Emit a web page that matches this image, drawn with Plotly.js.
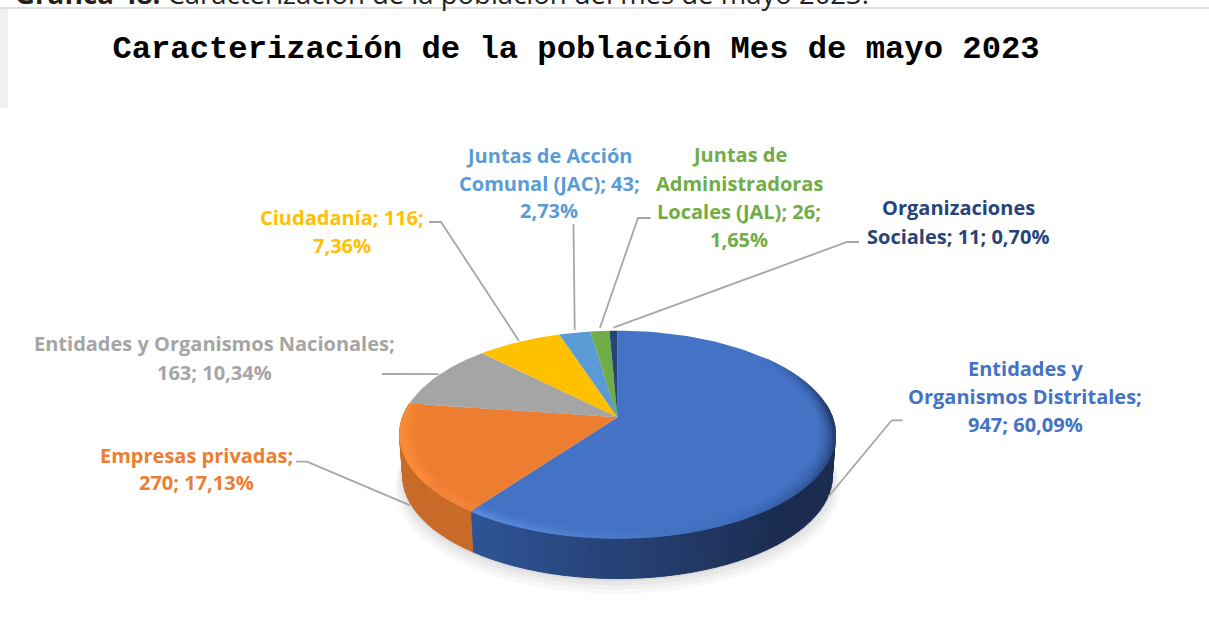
<!DOCTYPE html>
<html>
<head>
<meta charset="utf-8">
<script src="https://cdn.plot.ly/plotly-3.0.1.min.js"></script>
<style>html,body{margin:0;padding:0;background:#fff;overflow:hidden}#chart{width:1209px;height:643px}</style>
</head>
<body>
<div id="chart"></div>
<script>
// ---- data ----
const categories = ["Entidades y Organismos Distritales","Empresas privadas","Entidades y Organismos Nacionales","Ciudadanía","Juntas de Acción Comunal (JAC)","Juntas de Administradoras Locales (JAL)","Organizaciones Sociales"];
const values = [947,270,163,116,43,26,11];
const percents = ["60,09%","17,13%","10,34%","7,36%","2,73%","1,65%","0,70%"];
const labelLines = [
  ["Entidades y","Organismos Distritales;","947; 60,09%"],
  ["Empresas privadas;","270; 17,13%"],
  ["Entidades y Organismos Nacionales;","163; 10,34%"],
  ["Ciudadanía; 116;","7,36%"],
  ["Juntas de Acción","Comunal (JAC); 43;","2,73%"],
  ["Juntas de","Administradoras","Locales (JAL); 26;","1,65%"],
  ["Organizaciones","Sociales; 11; 0,70%"]
];
const titleText = "Caracterización de la población Mes de mayo 2023";
const captionText = "<b>Gráfica 48:</b> Caracterización de la población del mes de mayo 2023.";

// ---- styles ----
const topColors = ["#4472c4","#ed7d31","#a5a5a5","#ffc000","#5b9bd5","#70ad47","#264478"];
const textColors = ["#4472c4","#ed7d31","#a5a5a5","#ffc000","#5b9bd5","#70ad47","#264478"];
const FONT = "'Open Sans', 'Noto Sans', sans-serif";
const labelSize = 20;
const labelX = [1025,196,214,342,549,739,958];
const labelY = [[368,396,424],[455,482],[343,372],[217,245],[155,183,210],[154,183,211,239],[207,236]];
const elbows = [[[902.7,420.3],[891.7,420.3]],[[296,461.7],[307,461.7]],[[382,374]],[[429,222],[441,222]],[[573.5,224]],[[650.7,218],[638,218]],[[859,242],[847,242]]];
const leaderShift = [47,47,-1,-1,-3,-3,-3];
const leaderRadius = [0.98,0.98,1.0,1.0,1.0,1.0,1.0];

// ---- projection of the pie disc ----
const G = {cx:617.5, cy:417.3, A:215, B:101, k:0.166, depth:42, shrink:0.985};
function proj(ang, r){
  const u=r*Math.sin(ang), v=r*Math.cos(ang), w=1+G.k*v;
  return [G.cx+G.A*u/w, G.cy-G.B*v/w];
}
const total = values.reduce((a,b)=>a+b,0);
const bounds=[0]; values.forEach(v=>bounds.push(bounds[bounds.length-1]+v/total*2*Math.PI));

function hex2(c){return [1,3,5].map(i=>parseInt(c.substr(i,2),16));}
function mix(a,b,t){const A=hex2(a),B=hex2(b);return "rgb("+A.map((x,i)=>Math.round(x+(B[i]-x)*t)).join(",")+")";}

const traces=[];
function poly(pts,color,lw){
  traces.push({type:"scatter",mode:"lines",x:pts.map(p=>p[0]).concat(pts[0][0]),y:pts.map(p=>p[1]).concat(pts[0][1]),
    fill:"toself",fillcolor:color,line:{color:lw?color:"rgba(0,0,0,0)",width:lw||0,shape:"linear"},hoverinfo:"skip",showlegend:false});
}
function arc(a0,a1,n,fn){const o=[];for(let i=0;i<=n;i++){o.push(fn(a0+(a1-a0)*i/n));}return o;}

// soft shadow below the disc
[[1.02,"rgba(120,120,120,0.05)",53],[1.01,"rgba(120,120,120,0.06)",50],[1.0,"rgba(120,120,120,0.07)",47],[0.99,"rgba(120,120,120,0.08)",44]].forEach(s=>{
  poly(arc(0,2*Math.PI,100,t=>{const p=proj(t,1);return [G.cx+(p[0]-G.cx)*s[0],p[1]+s[2]+(p[1]-G.cy)*(s[0]-1)];}),s[1]);
});

// side wall (front half only): shading by position along the rim
function wallColor(i,ang){
  const deg=ang*180/Math.PI;
  if(i===0){ const t=Math.min(1,Math.max(0,(216-deg)/(216-140))); return mix("#2f5597","#1b2c50",t); }
  return mix("#c86a28","#c86a28",0);
}
for(let i=0;i<2;i++){
  const a0=Math.max(bounds[i],Math.PI/2*0.92), a1=Math.min(bounds[i+1],Math.PI*1.56), N=Math.ceil((a1-a0)/(Math.PI/60));
  for(let j=0;j<N;j++){
    const s=a0+(a1-a0)*j/N, e=a0+(a1-a0)*(j+1)/N;
    const top=arc(s,e,2,t=>proj(t,1));
    const bot=arc(e,s,2,t=>{const p=proj(t,1);return [G.cx+(p[0]-G.cx)*G.shrink,G.cy+(p[1]-G.cy)*G.shrink+G.depth];});
    poly(top.concat(bot),wallColor(i,(s+e)/2),1);
  }
}

// flat top face: one wedge per category
values.forEach((v,i)=>{
  const n=Math.max(4,Math.ceil((bounds[i+1]-bounds[i])/(Math.PI/90)));
  poly([proj(0,0)].concat(arc(bounds[i],bounds[i+1],n,t=>proj(t,1))),topColors[i]);
});

// bevel along the front rim, lit at the lower left and dark on the right
function bevelColor(i,ang,row){
  const deg=ang*180/Math.PI;
  const rowT=row;
  if(i===1){ return mix("#ed7d31",deg>235?"#fb8a38":"#f2843a",rowT<1?Math.sin(rowT*Math.PI*0.6):1); }
  let edge;
  if(deg>150) edge=mix("#3d6ab8","#5b8de0",(deg-150)/66);
  else edge=mix("#1f3560","#3d6ab8",Math.max(0,(deg-85)/65));
  const base=hex2("#4472c4"); const e=edge.match(/\d+/g).map(Number);
  return "rgb("+base.map((x,k)=>Math.round(x+(e[k]-x)*rowT)).join(",")+")";
}
const rows=[0.93,0.945,0.96,0.975,0.988,1.0];
for(let i=0;i<2;i++){
  const a0=Math.max(bounds[i],Math.PI*0.28), a1=Math.min(bounds[i+1],Math.PI*1.62), N=Math.ceil((a1-a0)/(Math.PI/50));
  for(let r=0;r<rows.length-1;r++){
    for(let j=0;j<N;j++){
      const s=a0+(a1-a0)*j/N, e=a0+(a1-a0)*(j+1)/N;
      const A=arc(s,e,2,t=>proj(t,rows[r])), B=arc(e,s,2,t=>proj(t,rows[r+1]));
      const deg=(s+e)/2*180/Math.PI;
      // fade the bevel out towards the ends of the visible rim
      const fade=Math.max(0,Math.min(1,Math.min((deg-50)/40,(292-deg)/30)));
      const rowT=Math.pow((r+1)/(rows.length-1),1.6);
      poly(A.concat(B),bevelColor(i,(s+e)/2,rowT*fade),0.6);
    }
  }
}

// leader lines: end at the middle of each slice, start at the label elbow
const shapes=[
  {type:"rect",xref:"x",yref:"y",x0:0,x1:8,y0:8,y1:108,fillcolor:"#f0f0f0",line:{width:0},layer:"below"},
  {type:"rect",xref:"x",yref:"y",x0:0,x1:1209,y0:7,y1:9,fillcolor:"#e0e0e0",line:{width:0},layer:"below"}
];
values.forEach((v,i)=>{
  const mid=(bounds[i]+bounds[i+1])/2, p=proj(mid,leaderRadius[i]);
  const end=[p[0],p[1]+leaderShift[i]];
  const pts=elbows[i].concat([end]);
  shapes.push({type:"path",xref:"x",yref:"y",path:"M"+pts.map(q=>q[0].toFixed(1)+","+q[1].toFixed(1)).join("L"),line:{color:"#a6a6a6",width:1.8},layer:"above"});
});

// labels, one annotation per text line so the line spacing matches
const annotations=[{xref:"paper",yref:"paper",x:13/1209,y:1+7/643,xanchor:"left",yanchor:"middle",showarrow:false,text:captionText,font:{family:FONT,size:27.5,color:"#222"}}];
labelLines.forEach((lines,i)=>lines.forEach((t,k)=>{
  annotations.push({xref:"x",yref:"y",x:labelX[i],y:labelY[i][k],xanchor:"center",yanchor:"middle",showarrow:false,text:"<b>"+t+"</b>",font:{family:FONT,size:labelSize,color:textColors[i]}});
}));

Plotly.newPlot("chart",traces,{
  width:1209,height:643,margin:{l:0,r:0,t:0,b:0},paper_bgcolor:"#fff",plot_bgcolor:"rgba(0,0,0,0)",showlegend:false,
  title:{text:"<b>"+titleText+"</b>",x:576/1209,xanchor:"center",y:1-47/643,yanchor:"middle",font:{family:"'Liberation Mono',monospace",size:32.2,color:"#000"}},
  xaxis:{range:[0,1209],visible:false,fixedrange:true},
  yaxis:{range:[643,0],visible:false,fixedrange:true},
  shapes,annotations
},{staticPlot:true,displayModeBar:false});
</script>
</body>
</html>
